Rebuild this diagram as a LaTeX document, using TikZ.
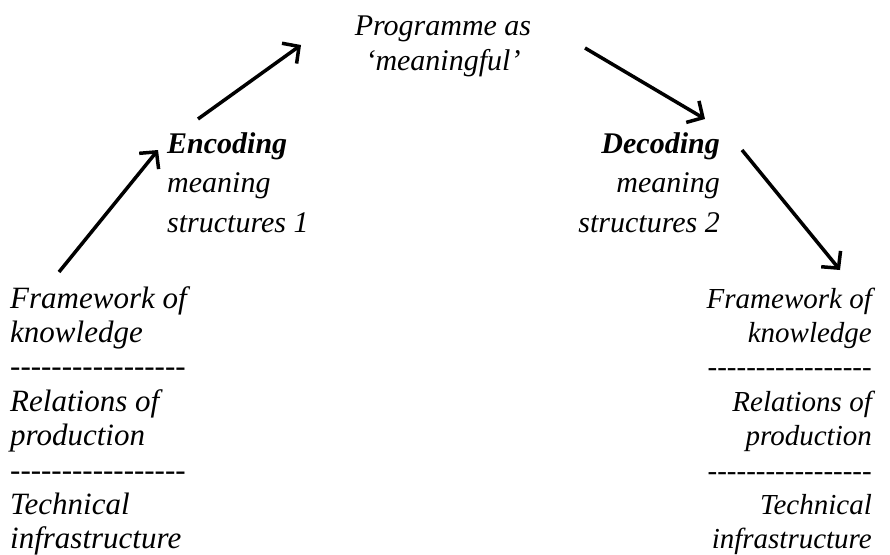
\documentclass[tikz,border=0pt]{standalone}
\usepackage{fontspec}
\setmainfont{Liberation Serif}[Ligatures=TeXOff,
  ItalicFont={Liberation Serif Italic}, BoldItalicFont={Liberation Serif Bold Italic}]
\usepackage{tikz}
\usetikzlibrary{positioning}
\usetikzlibrary{calc,arrows.meta}

\newcommand{\dashes}{-----------------}

\begin{document}
\begin{tikzpicture}[x=1pt, y=-1pt, >={Straight Barb[length=12pt,width=25pt]},
  every node/.style={inner sep=0pt, font=\fontsize{30}{34}\selectfont\itshape},
  keyword/.style={font=\fontsize{30}{34}\selectfont\bfseries\itshape},
  stackl/.style={anchor=base west, font=\fontsize{31}{34}\selectfont\itshape},
  stackr/.style={anchor=base east, font=\fontsize{29}{34}\selectfont\itshape},
  flow/.style={->, line width=3.5pt}]
  \useasboundingbox (0,0) rectangle (890,554);

  % programme at the top
  \node[anchor=base] (prog1) at (443,35) {Programme as};
  \node[anchor=base] (prog2) at (443,70) {‘meaningful’};

  % encoding side
  \node[keyword, anchor=base west] (enc) at (167,153) {Encoding};
  \node[anchor=base west] (enc2) at (167,192) {meaning};
  \node[anchor=base west] (enc3) at (167,232) {structures 1};

  % decoding side
  \node[keyword, anchor=base east] (dec) at (720,153) {Decoding};
  \node[anchor=base east] (dec2) at (720,192) {meaning};
  \node[anchor=base east] (dec3) at (720,232) {structures 2};

  % the two stacks
  \foreach \txt [count=\i] in {Framework of, knowledge, \dashes, Relations of, production, \dashes, Technical, infrastructure}
    \node[stackl] (l\i) at (10,{308+34.4*(\i-1)}) {\txt};
  \foreach \txt [count=\i] in {Framework of, knowledge, \dashes, Relations of, production, \dashes, Technical, infrastructure}
    \node[stackr] (r\i) at (872,{308+34.4*(\i-1)}) {\txt};

  \draw[flow] ($(l1.base west)+(49,-36)$) -- ($(enc.base west)+(-9,-3)$);
  \draw[flow] ($(enc.base west)+(31,-34)$) -- ($(prog1.base)+(-142,10)$);
  \draw[flow] ($(prog1.base)+(142,13)$) -- ($(dec.base east)+(-15,-34)$);
  \draw[flow] ($(dec.base east)+(22,-3)$) -- ($(r1.base east)+(-32,-38)$);
\end{tikzpicture}
\end{document}
